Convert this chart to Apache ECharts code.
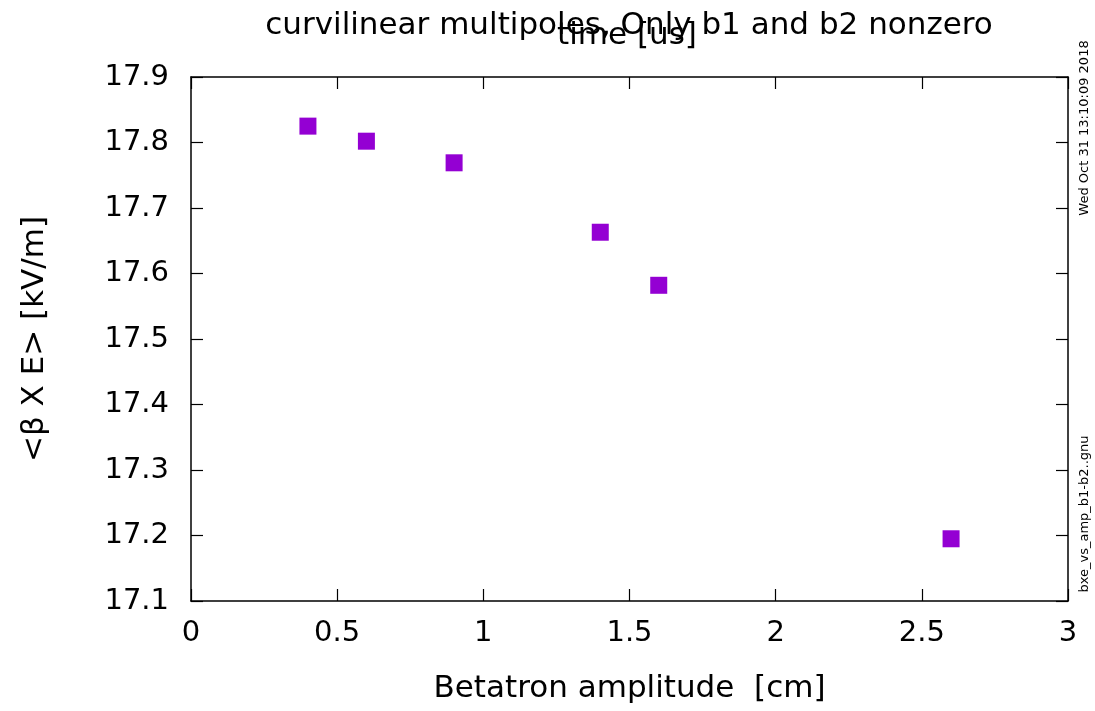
<!DOCTYPE html>
<html>
<head>
<meta charset="utf-8">
<script src="https://cdn.jsdelivr.net/npm/echarts@6/dist/echarts.min.js"></script>
<style>html,body{margin:0;padding:0;background:#fff}#c{width:1095px;height:711px}</style>
</head>
<body>
<div id="c"></div>
<script>
const amplitude = [0.4, 0.6, 0.9, 1.4, 1.6, 2.6];
const bxe = [17.825, 17.802, 17.769, 17.663, 17.582, 17.195];
const titleText = 'curvilinear multipoles, Only b1 and b2 nonzero';
const subText = 'time [us]';
const xName = 'Betatron amplitude  [cm]';
const yName = '<β X E> [kV/m]';
const dateText = 'Wed Oct 31 13:10:09 2018';
const fileText = 'bxe_vs_amp_b1-b2..gnu';

const F = 'DejaVu Sans';
const chart = echarts.init(document.getElementById('c'), null, {renderer: 'canvas'});
const axisLine = () => ({show: true, onZero: false, lineStyle: {color: '#000', width: 1.5}});
const tick = () => ({show: true, inside: true, length: 12, lineStyle: {color: '#000', width: 1.2}});
chart.setOption({
  animation: false,
  backgroundColor: '#fff',
  title: [
    {text: titleText, left: 624, top: 5, textAlign: 'center',
     textStyle: {fontFamily: F, fontSize: 31, fontWeight: 'normal', color: '#000'}},
    {text: subText, left: 622, top: 15, textAlign: 'center',
     textStyle: {fontFamily: F, fontSize: 31, fontWeight: 'normal', color: '#000'}}
  ],
  grid: {left: 191, right: 27, top: 77, bottom: 110},
  xAxis: [
    {type: 'value', min: 0, max: 3, interval: 0.5, position: 'bottom',
     name: xName, nameLocation: 'middle', nameGap: 72,
     nameTextStyle: {fontFamily: F, fontSize: 31, color: '#000'},
     axisLine: axisLine(), axisTick: tick(), splitLine: {show: false},
     axisLabel: {fontFamily: F, fontSize: 29, color: '#000', margin: 18}},
    {type: 'value', min: 0, max: 3, interval: 0.5, position: 'top',
     axisLine: axisLine(), axisTick: tick(), splitLine: {show: false}, axisLabel: {show: false}}
  ],
  yAxis: [
    {type: 'value', min: 17.1, max: 17.9, interval: 0.1, position: 'left',
     name: yName, nameLocation: 'middle', nameGap: 141, nameRotate: 90,
     nameTextStyle: {fontFamily: F, fontSize: 31, color: '#000'},
     axisLine: axisLine(), axisTick: tick(), splitLine: {show: false},
     axisLabel: {fontFamily: F, fontSize: 29, color: '#000', margin: 22,
       formatter: v => v.toFixed(1)}},
    {type: 'value', min: 17.1, max: 17.9, interval: 0.1, position: 'right',
     axisLine: axisLine(), axisTick: tick(), splitLine: {show: false}, axisLabel: {show: false}}
  ],
  graphic: [
    {type: 'text', x: 1085, y: 128, rotation: Math.PI / 2,
     style: {text: dateText, font: '13px "DejaVu Sans"', fill: '#000', align: 'center', verticalAlign: 'middle'}},
    {type: 'text', x: 1085, y: 514, rotation: Math.PI / 2,
     style: {text: fileText, font: '13px "DejaVu Sans"', fill: '#000', align: 'center', verticalAlign: 'middle'}}
  ],
  series: [{
    type: 'scatter', symbol: 'rect', symbolSize: 17,
    itemStyle: {color: '#9400d3', opacity: 1},
    data: amplitude.map((x, i) => [x, bxe[i]])
  }]
});
</script>
</body>
</html>
